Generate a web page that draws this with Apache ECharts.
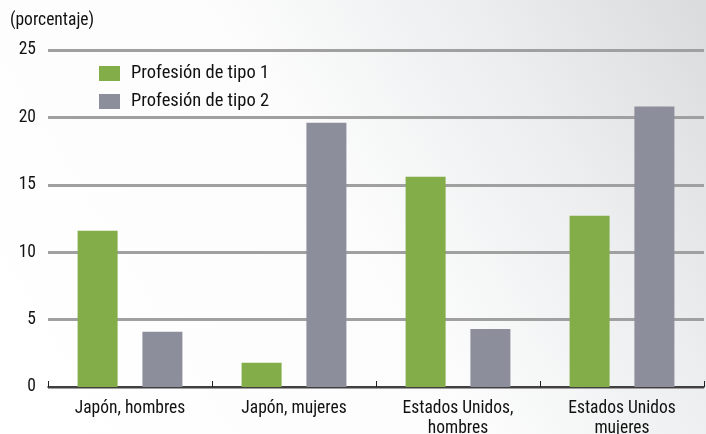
<!DOCTYPE html>
<html><head><meta charset="utf-8">
<script src="https://cdn.jsdelivr.net/npm/echarts@6/dist/echarts.min.js"></script>
<style>html,body{margin:0;padding:0;}#c{width:706px;height:434px;}</style>
</head><body><div id="c"></div>
<script>
const categories = ["Japón, hombres", "Japón, mujeres", "Estados Unidos,\nhombres", "Estados Unidos\nmujeres"];
const tipo1 = [11.6, 1.8, 15.6, 12.7];
const tipo2 = [4.1, 19.6, 4.3, 20.8];
const seriesNames = ["Profesión de tipo 1", "Profesión de tipo 2"];
const FONT = "'Roboto Condensed', 'DejaVu Sans Condensed', sans-serif";
const chart = echarts.init(document.getElementById('c'));
chart.setOption({
  animation: false,
  backgroundColor: {
    type: 'linear', x: 0, y: 1, x2: 1, y2: 0,
    colorStops: [
      {offset: 0, color: '#ffffff'},
      {offset: 0.5, color: '#fcfcfc'},
      {offset: 0.75, color: '#eceeef'},
      {offset: 1, color: '#dadbdc'}
    ]
  },
  title: {
    text: '(porcentaje)', left: 5, top: 7,
    textStyle: {fontFamily: FONT, fontSize: 17.5, fontWeight: 'normal', color: '#111'}
  },
  legend: {
    orient: 'vertical', left: 94, top: 59, itemWidth: 21, itemHeight: 15, itemGap: 9,
    icon: 'rect',
    textStyle: {fontFamily: FONT, fontSize: 18.5, color: '#111', padding: [0, 0, 0, 6]},
    data: seriesNames
  },
  grid: {left: 48, right: 2, top: 50, bottom: 47, containLabel: false, outerBoundsMode: 'none'},
  xAxis: {
    type: 'category', data: categories,
    axisLine: {lineStyle: {color: '#231f20', width: 1.5}},
    axisTick: {show: true, inside: true, length: 6, lineStyle: {color: '#231f20'}},
    axisLabel: {fontFamily: FONT, fontSize: 17.5, color: '#111', margin: 12, lineHeight: 20, interval: 0}
  },
  yAxis: {
    type: 'value', min: 0, max: 25, interval: 5,
    axisLine: {show: false}, axisTick: {show: false},
    axisLabel: {fontFamily: FONT, fontSize: 17.5, color: '#111', margin: 12},
    splitLine: {lineStyle: {color: '#a0a0a0', width: 3}}
  },
  series: [
    {name: seriesNames[0], type: 'bar', data: tipo1, barWidth: 40, barGap: '62%', itemStyle: {color: '#82ad48'}},
    {name: seriesNames[1], type: 'bar', data: tipo2, barWidth: 40, itemStyle: {color: '#8d8e9b'}}
  ]
});
</script></body></html>
